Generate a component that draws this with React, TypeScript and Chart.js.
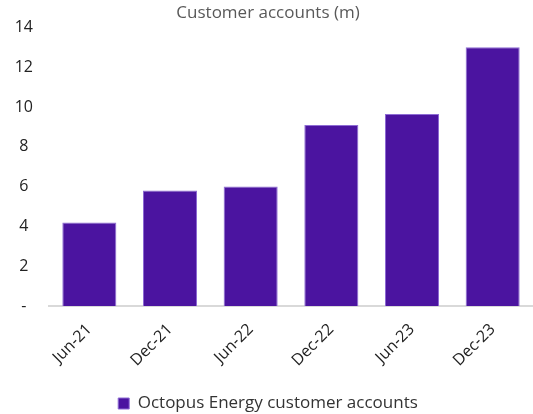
import React, { useEffect, useRef } from "react";
import { Chart, registerables } from "chart.js";

Chart.register(...registerables);

const categories = ["Jun-21", "Dec-21", "Jun-22", "Dec-22", "Jun-23", "Dec-23"];
const accounts = [4.2, 5.8, 6.0, 9.1, 9.65, 13.0];
const seriesLabel = "Octopus Energy customer accounts";
const titleText = "Customer accounts (m)";
const FONT = "'Open Sans', sans-serif";

export default function App() {
  const ref = useRef<HTMLCanvasElement>(null);
  useEffect(() => {
    document.body.style.margin = "0";
    const ctx = ref.current!;
    const chart = new Chart(ctx, {
      type: "bar",
      data: {
        labels: categories,
        datasets: [
          {
            label: seriesLabel,
            data: accounts,
            backgroundColor: "#4B14A0",
            borderColor: "#8E6CD4",
            borderWidth: 1,
            barPercentage: 0.67,
            categoryPercentage: 1,
          },
        ],
      },
      options: {
        animation: false,
        responsive: false,
        maintainAspectRatio: false,
        layout: { padding: { top: 3, right: -3, left: 0, bottom: -8 } },
        plugins: {
          title: {
            display: true,
            text: titleText,
            color: "#595959",
            font: { family: FONT, size: 17, weight: "normal" },
            padding: { top: 0, bottom: 4 },
          },
          legend: {
            position: "bottom",
            labels: {
              color: "#333333",
              font: { family: FONT, size: 17 },
              boxWidth: 11,
              boxHeight: 11,
              padding: 2,
            },
          },
          tooltip: { enabled: false },
        },
        scales: {
          x: {
            grid: { display: false },
            border: { display: true, color: "#D9D9D9", width: 2 },
            ticks: {
              color: "#222222",
              font: { family: FONT, size: 16 },
              maxRotation: 45,
              minRotation: 45,
              padding: 6,
            },
            afterFit: (s: any) => {
              s.height = 87;
            },
          },
          y: {
            min: 0,
            max: 14,
            grid: { display: false },
            border: { display: false },
            ticks: {
              stepSize: 2,
              color: "#222222",
              font: { family: FONT, size: 16 },
              crossAlign: "center",
              padding: 8,
              callback: (v: any) => (v === 0 ? "-" : String(v)),
            },
            afterFit: (s: any) => {
              s.width = 49;
            },
          },
        },
      },
    });
    return () => chart.destroy();
  }, []);
  return (
    <div style={{ width: 533, height: 414 }}>
      <canvas ref={ref} width={533} height={414} style={{ width: 533, height: 414 }} />
    </div>
  );
}
